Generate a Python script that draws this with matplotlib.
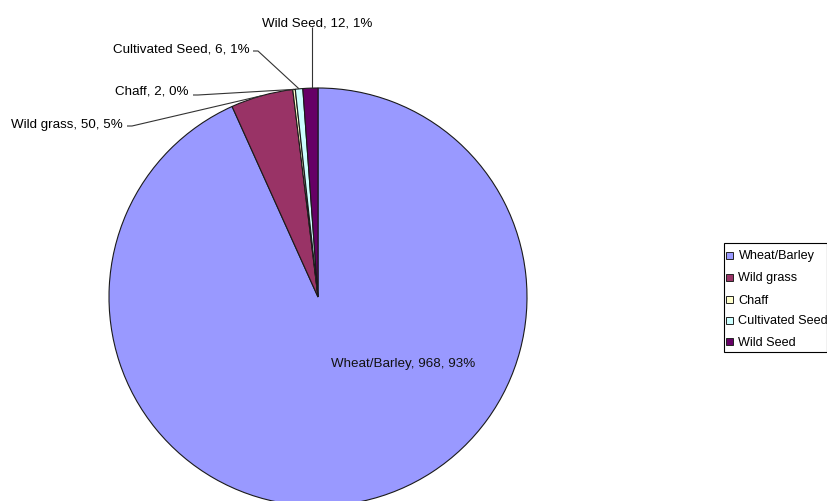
import numpy as np
import matplotlib
matplotlib.use("Agg")
import matplotlib.pyplot as plt
from matplotlib.patches import Rectangle

# Seed and grain composition (counts)
categories = ["Wheat/Barley", "Wild grass", "Chaff", "Cultivated Seed", "Wild Seed"]
counts = [968, 50, 2, 6, 12]
colors = ["#9999FF", "#993366", "#FFFFCC", "#CCFFFF", "#660066"]

W, H = 828, 502
plt.rcParams["font.family"] = ["Liberation Sans", "DejaVu Sans"]

fig = plt.figure(figsize=(W / 100, H / 100), dpi=100)
ax = fig.add_axes([0, 0, 1, 1])


def py(y):
    """Convert a top-down pixel row into the axes' upward y coordinate."""
    return H - y


center = (318, py(298))
radius = 209

wedges, _ = ax.pie(counts, colors=colors, startangle=90, counterclock=False,
                   center=center, radius=radius, frame=True,
                   wedgeprops=dict(edgecolor="#1a1a1a", linewidth=0.8))
ax.set_xlim(0, W)
ax.set_ylim(0, H)
ax.set_aspect("equal")
ax.axis("off")

total = sum(counts)
labels = [f"{c}, {v}, {round(100 * v / total):d}%" for c, v in zip(categories, counts)]


def edge_point(w):
    mid = np.deg2rad((w.theta1 + w.theta2) / 2)
    return center[0] + radius * np.cos(mid), center[1] + radius * np.sin(mid)


fs = 9.6
# inside label for the large slice
ax.text(331, py(367), labels[0], fontsize=fs, ha="left", va="baseline", color="#111111")

# outside labels with leader lines
line_kw = dict(color="#333333", lw=0.8, solid_capstyle="butt")

# Wild grass
ex, ey = edge_point(wedges[1])
ax.text(123, py(127.7), labels[1], fontsize=fs, ha="right", va="baseline")
ax.plot([127, 132, ex], [py(127), py(127), ey], **line_kw)

# Chaff
ex, ey = edge_point(wedges[2])
ax.text(189, py(95), labels[2], fontsize=fs, ha="right", va="baseline")
ax.plot([193, 198, ex], [py(96), py(96), ey], **line_kw)

# Cultivated Seed
ex, ey = edge_point(wedges[3])
ax.text(250, py(52.7), labels[3], fontsize=fs, ha="right", va="baseline")
ax.plot([253, 258, ex], [py(52), py(52), ey], **line_kw)

# Wild Seed
ex, ey = edge_point(wedges[4])
ax.text(262, py(26), labels[4], fontsize=fs, ha="left", va="baseline")
ax.plot([ex + 1.5, ex + 1.5], [py(28), ey], **line_kw)

# legend box
lx0, lx1, ly0, ly1 = 724, 827, 244, 353
frame = Rectangle((lx0, py(ly1)), lx1 - lx0, ly1 - ly0, facecolor="white",
                  edgecolor="black", linewidth=0.8)
ax.add_patch(frame)
rows = [256, 278.5, 300.5, 321, 342.5]
for cat, col, yr in zip(categories, colors, rows):
    ax.add_patch(Rectangle((726.5, py(yr) - 3.5), 7, 7, facecolor=col,
                           edgecolor="#222222", linewidth=0.7))
    t = ax.text(738.5, py(yr), cat, fontsize=9.1, ha="left", va="center")
    t.set_clip_path(frame)

fig.savefig("out.png", dpi=100)
